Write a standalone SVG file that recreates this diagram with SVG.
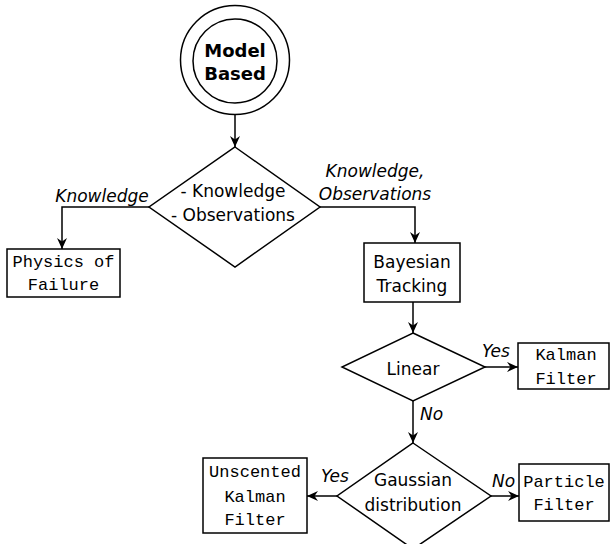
<svg xmlns="http://www.w3.org/2000/svg" width="610" height="544" viewBox="0 0 610 544">
<style>
.s{fill:none;stroke:#000;stroke-width:1.5}
.n{fill:#fff;stroke:#000;stroke-width:1.5}
.t{font-family:"DejaVu Sans",sans-serif;font-size:17px;text-anchor:middle;fill:#000}
.b{font-family:"DejaVu Sans",sans-serif;font-size:18px;font-weight:bold;text-anchor:middle;fill:#000}
.m{font-family:"Liberation Mono","Courier New",monospace;font-size:17px;text-anchor:middle;fill:#000}
.l{font-family:"DejaVu Sans",sans-serif;font-size:17px;font-style:italic;fill:#000}
</style>
<defs>
<marker id="ah" markerUnits="userSpaceOnUse" markerWidth="12" markerHeight="10" refX="11" refY="5" orient="auto">
<path d="M0,0 L11,5 L0,10 L3.5,5 z" fill="#000"/>
</marker>
</defs>
<rect width="610" height="544" fill="#fff"/>
<g id="connectors">
<line class="s" x1="235" y1="114.5" x2="235" y2="147" marker-end="url(#ah)"/>
<polyline class="s" points="149,207 62,207 62,249" marker-end="url(#ah)"/>
<polyline class="s" points="320,207 415,207 415,243" marker-end="url(#ah)"/>
<line class="s" x1="413" y1="302" x2="413" y2="333" marker-end="url(#ah)"/>
<line class="s" x1="485" y1="367" x2="518" y2="367" marker-end="url(#ah)"/>
<line class="s" x1="413" y1="401" x2="413" y2="443" marker-end="url(#ah)"/>
<line class="s" x1="337" y1="496" x2="307" y2="496" marker-end="url(#ah)"/>
<line class="s" x1="491" y1="496" x2="519" y2="496" marker-end="url(#ah)"/>
<text class="l" x="102" y="202" text-anchor="middle">Knowledge</text>
<text class="l" x="375" y="177" text-anchor="middle">Knowledge,</text>
<text class="l" x="375" y="200" text-anchor="middle">Observations</text>
<text class="l" x="496" y="357" text-anchor="middle">Yes</text>
<text class="l" x="420" y="420">No</text>
<text class="l" x="335" y="482" text-anchor="middle">Yes</text>
<text class="l" x="492" y="487">No</text>
</g>
<g id="start">
<circle class="n" cx="235" cy="60" r="54.5"/>
<circle class="n" cx="235" cy="61" r="42"/>
<text class="b" x="235" y="57">Model</text>
<text class="b" x="235" y="80">Based</text>
</g>
<g id="decision1">
<polygon class="n" points="235,147 320,207 235,267 149,207"/>
<text class="t" x="233" y="197">- Knowledge</text>
<text class="t" x="233" y="221">- Observations</text>
</g>
<g id="physics">
<rect class="n" x="7" y="249" width="113" height="48"/>
<text class="m" x="63.5" y="267">Physics of</text>
<text class="m" x="63.5" y="290">Failure</text>
</g>
<g id="bayesian">
<rect class="n" x="364" y="243" width="96" height="59"/>
<text class="t" x="412" y="268">Bayesian</text>
<text class="t" x="412" y="292">Tracking</text>
</g>
<g id="linear">
<polygon class="n" points="413,333 485,367 413,401 342,367"/>
<text class="t" x="413" y="375">Linear</text>
</g>
<g id="kalman">
<rect class="n" x="518" y="343" width="91" height="46"/>
<text class="m" x="566" y="360">Kalman</text>
<text class="m" x="566" y="384">Filter</text>
</g>
<g id="gaussian">
<polygon class="n" points="413,443 491,496 413,549 337,496"/>
<text class="t" x="413" y="486">Gaussian</text>
<text class="t" x="413" y="511">distribution</text>
</g>
<g id="ukf">
<rect class="n" x="203" y="458" width="104" height="75"/>
<text class="m" x="255" y="477">Unscented</text>
<text class="m" x="255" y="502">Kalman</text>
<text class="m" x="255" y="525">Filter</text>
</g>
<g id="particle">
<rect class="n" x="519" y="464" width="90" height="57"/>
<text class="m" x="564" y="487">Particle</text>
<text class="m" x="564" y="510">Filter</text>
</g>
</svg>
